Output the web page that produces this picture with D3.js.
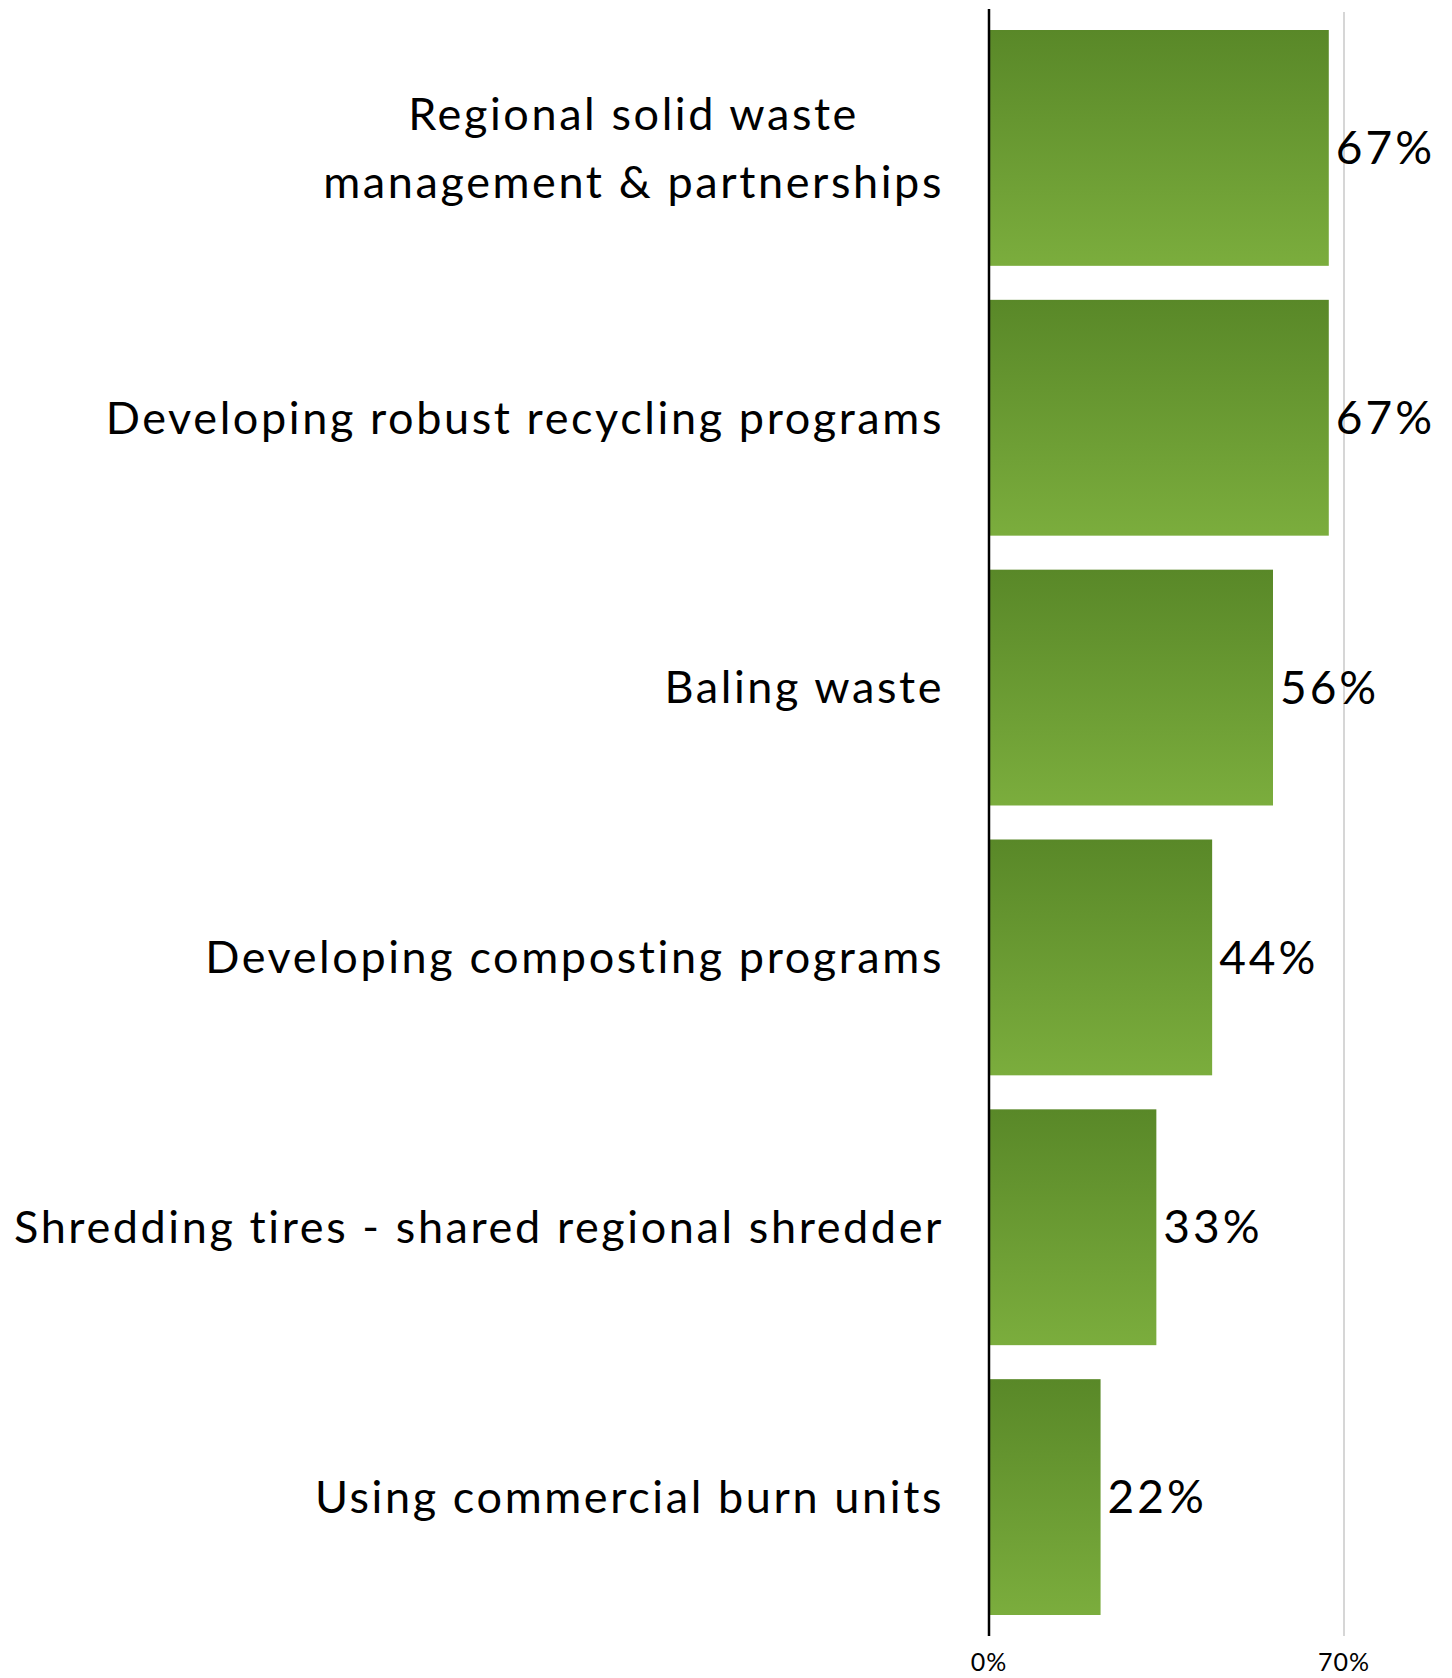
<!DOCTYPE html>
<html>
<head>
<meta charset="utf-8">
<script src="https://cdn.jsdelivr.net/npm/d3@7"></script>
<style>
  body { margin: 0; background: #fff; }
  text { font-family: Lato, sans-serif; fill: #000; }
</style>
</head>
<body>
<div id="chart"></div>
<script>
var categories = [
    "Regional solid waste\nmanagement & partnerships",
    "Developing robust recycling programs",
    "Baling waste",
    "Developing composting programs",
    "Shredding tires - shared regional shredder",
    "Using commercial burn units"
];
var values = [67, 67, 56, 44, 33, 22];
var tickValues = [0, 70];

var w = 1452;
var h = 1678;
var x0 = 989;
var labelRight = 944;

var svg = d3.select("#chart")
    .append("svg")
    .attr("width", w)
    .attr("height", h);

var grad = svg.append("defs")
    .append("linearGradient")
    .attr("id", "barfill")
    .attr("x1", 0).attr("y1", 0)
    .attr("x2", 0).attr("y2", 1);
grad.append("stop").attr("offset", "0%").attr("stop-color", "#598828");
grad.append("stop").attr("offset", "100%").attr("stop-color", "#7bad3d");

var xscale = d3.scaleLinear()
    .domain([0, 70])
    .range([x0, 1344]);

var yscale = d3.scaleBand()
    .domain(d3.range(categories.length))
    .range([13, 1632])
    .paddingInner(0.126)
    .paddingOuter(0.063);

// gridline at 70%
svg.append("line")
    .attr("x1", xscale(70)).attr("x2", xscale(70))
    .attr("y1", 12).attr("y2", 1636)
    .attr("stroke", "#c8c8c8")
    .attr("stroke-width", 1.5);

svg.selectAll("rect.bar")
    .data(values)
    .enter()
    .append("rect")
    .attr("class", "bar")
    .attr("x", xscale(0))
    .attr("y", function(d, i) { return yscale(i); })
    .attr("width", function(d) { return xscale(d) - xscale(0); })
    .attr("height", yscale.bandwidth())
    .attr("fill", "url(#barfill)");

// zero axis line
svg.append("line")
    .attr("x1", xscale(0)).attr("x2", xscale(0))
    .attr("y1", 9).attr("y2", 1636)
    .attr("stroke", "#000")
    .attr("stroke-width", 2.5);

// value labels
svg.selectAll("text.val")
    .data(values)
    .enter()
    .append("text")
    .attr("class", "val")
    .attr("x", function(d) { return xscale(d) + 7; })
    .attr("y", function(d, i) { return yscale(i) + yscale.bandwidth() / 2; })
    .attr("dy", "0.35em")
    .attr("font-size", "46px")
    .attr("letter-spacing", "3px")
    .text(function(d) { return d + "%"; });

// category labels, lines centred on each other, block right aligned
var lineH = 68;
var labels = svg.selectAll("g.cat")
    .data(categories)
    .enter()
    .append("g")
    .attr("class", "cat");

labels.each(function(d, i) {
    var g = d3.select(this);
    var lines = d.split("\n");
    var cy = yscale(i) + yscale.bandwidth() / 2;
    var texts = g.selectAll("text")
        .data(lines)
        .enter()
        .append("text")
        .attr("font-size", "45px")
        .attr("letter-spacing", "2.6px")
        .attr("text-anchor", "middle")
        .attr("dy", "0.35em")
        .attr("y", function(l, j) { return cy + (j - (lines.length - 1) / 2) * lineH; })
        .text(function(l) { return l; });
    var maxW = 0;
    texts.each(function() { maxW = Math.max(maxW, this.getComputedTextLength()); });
    texts.attr("x", labelRight - maxW / 2);
});

// tick labels
svg.selectAll("text.tick")
    .data(tickValues)
    .enter()
    .append("text")
    .attr("class", "tick")
    .attr("x", function(d) { return xscale(d); })
    .attr("y", 1671)
    .attr("text-anchor", "middle")
    .attr("font-size", "25px")
    .attr("letter-spacing", "1px")
    .text(function(d) { return d + "%"; });
</script>
</body>
</html>
